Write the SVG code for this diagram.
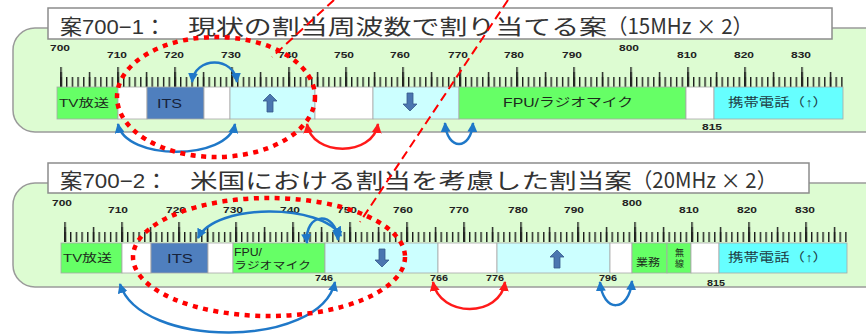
<svg xmlns="http://www.w3.org/2000/svg" xmlns:xlink="http://www.w3.org/1999/xlink" width="866" height="336" viewBox="0 0 866 336">
<style>
.panel{fill:#ddfcd2;stroke:#9a9a9a;stroke-width:1.5}
.title{fill:#fff;stroke:#8c8c8c;stroke-width:1.5}
.tt{font-family:"Liberation Sans","Noto Sans CJK JP",sans-serif;font-size:21px;fill:#333}
.cjk{font-family:"Noto Sans CJK JP",sans-serif}
.lbl{font-family:"Liberation Sans","Noto Sans CJK JP",sans-serif;font-size:9px;font-weight:bold;fill:#222;text-anchor:middle}
.bt{font-family:"Liberation Sans","Noto Sans CJK JP",sans-serif;font-size:11px;fill:#1c2a1c}
.band{stroke:#a8a8a8;stroke-width:0.8}
.g{fill:#66ff66}.w{fill:#fff}.its{fill:#4f7fbe}.c{fill:#ccffff}.m{fill:#66ffff}
.arb{fill:none;stroke:#1f78c8;stroke-width:2.5;marker-start:url(#hb);marker-end:url(#hb)}
.arr{fill:none;stroke:#ff1a1a;stroke-width:2.5;marker-start:url(#hr);marker-end:url(#hr)}
.ell{fill:none;stroke:#ff0000;stroke-width:4.5;stroke-dasharray:5 5.5}
.dl{fill:none;stroke:#ff0000;stroke-width:2;stroke-dasharray:9 5}
.blk{fill:#4a76b0;stroke:#35598a;stroke-width:0.8}
</style>
<defs>
<marker id="hb" viewBox="0 0 10 10" refX="9" refY="5" markerWidth="4" markerHeight="4" orient="auto-start-reverse"><path d="M0,0 L10,5 L0,10 z" fill="#1f78c8"/></marker>
<marker id="hr" viewBox="0 0 10 10" refX="9" refY="5" markerWidth="4" markerHeight="4" orient="auto-start-reverse"><path d="M0,0 L10,5 L0,10 z" fill="#ff1a1a"/></marker>
<pattern id="t1" patternUnits="userSpaceOnUse" x="60.3" y="0" width="5.7" height="400"><rect width="1.4" height="400" fill="#1a1a1a"/></pattern>
<pattern id="t5" patternUnits="userSpaceOnUse" x="60.3" y="0" width="28.5" height="400"><rect width="1.4" height="400" fill="#1a1a1a"/></pattern>
<pattern id="t10" patternUnits="userSpaceOnUse" x="60.3" y="0" width="57" height="400"><rect width="1.4" height="400" fill="#1a1a1a"/></pattern>
<g id="ticks">
<rect x="60" y="77" width="783" height="10" fill="url(#t1)"/>
<rect x="60" y="72" width="783" height="15" fill="url(#t5)"/>
<rect x="60" y="67" width="783" height="20" fill="url(#t10)"/>
</g>
<path id="up" d="M0,-9 L7,-2 L3,-2 L3,9 L-3,9 L-3,-2 L-7,-2 Z"/>
</defs>

<!-- top panel -->
<g id="panel1">
<rect class="panel" x="13" y="28" width="890" height="104" rx="22"/>
<rect class="title" x="48" y="8" width="784" height="31"/>
<text class="tt" y="34"><tspan x="60" textLength="128" lengthAdjust="spacingAndGlyphs">案700−1：　</tspan><tspan x="188" textLength="419" lengthAdjust="spacingAndGlyphs">現状の割当周波数で割り当てる案</tspan><tspan class="cjk" x="607" textLength="146" lengthAdjust="spacingAndGlyphs">（15MHz × 2）</tspan></text>
<use href="#ticks"/>
<g id="scale1">
<text class="lbl" x="60" y="51" textLength="20" lengthAdjust="spacingAndGlyphs">700</text>
<text class="lbl" x="117" y="58" textLength="20" lengthAdjust="spacingAndGlyphs">710</text>
<text class="lbl" x="174" y="58" textLength="20" lengthAdjust="spacingAndGlyphs">720</text>
<text class="lbl" x="231" y="58" textLength="20" lengthAdjust="spacingAndGlyphs">730</text>
<text class="lbl" x="288" y="58" textLength="20" lengthAdjust="spacingAndGlyphs">740</text>
<text class="lbl" x="344" y="58" textLength="20" lengthAdjust="spacingAndGlyphs">750</text>
<text class="lbl" x="400" y="58" textLength="20" lengthAdjust="spacingAndGlyphs">760</text>
<text class="lbl" x="458" y="58" textLength="20" lengthAdjust="spacingAndGlyphs">770</text>
<text class="lbl" x="514" y="58" textLength="20" lengthAdjust="spacingAndGlyphs">780</text>
<text class="lbl" x="572" y="58" textLength="20" lengthAdjust="spacingAndGlyphs">790</text>
<text class="lbl" x="629" y="51" textLength="20" lengthAdjust="spacingAndGlyphs">800</text>
<text class="lbl" x="687" y="58" textLength="20" lengthAdjust="spacingAndGlyphs">810</text>
<text class="lbl" x="744" y="58" textLength="20" lengthAdjust="spacingAndGlyphs">820</text>
<text class="lbl" x="801" y="58" textLength="20" lengthAdjust="spacingAndGlyphs">830</text>
<text class="lbl" x="712" y="130" textLength="20" lengthAdjust="spacingAndGlyphs">815</text>
</g>
</g>
<g id="p1-tv"><rect class="band g" x="57" y="87" width="61" height="32"/><text class="bt" x="59" y="107" textLength="50" lengthAdjust="spacingAndGlyphs">TV放送</text></g>
<g id="p1-gap1"><rect class="band w" x="118" y="87" width="29" height="32"/></g>
<g id="p1-its"><rect class="band its" x="147" y="87" width="57" height="32"/><text class="bt" x="157" y="108" textLength="25" lengthAdjust="spacingAndGlyphs" style="font-size:12px;fill:#16223a">ITS</text></g>
<g id="p1-gap2"><rect class="band w" x="204" y="87" width="26" height="32"/></g>
<g id="p1-up"><rect class="band c" x="230" y="87" width="85" height="32"/><use href="#up" class="blk" x="270" y="103"/></g>
<g id="p1-gap3"><rect class="band w" x="315" y="87" width="58" height="32"/></g>
<g id="p1-down"><rect class="band c" x="373" y="87" width="86" height="32"/><use href="#up" class="blk" transform="translate(410,102) rotate(180)"/></g>
<g id="p1-fpu"><rect class="band g" x="459" y="87" width="227" height="32"/><text class="bt" x="503" y="107" textLength="130" lengthAdjust="spacingAndGlyphs" style="font-size:12px">FPU/ラジオマイク</text></g>
<g id="p1-gap4"><rect class="band w" x="686" y="87" width="28" height="32"/></g>
<g id="p1-mobile"><rect class="band m" x="714" y="87" width="129" height="32"/><text class="bt cjk" x="728" y="107" textLength="100" lengthAdjust="spacingAndGlyphs" style="font-size:12px;fill:#203c44">携帯電話（↑）</text></g>

<!-- bottom panel -->
<g id="panel2">
<rect class="panel" x="13" y="183" width="890" height="104" rx="22"/>
<rect class="title" x="48" y="163" width="761" height="30"/>
<text class="tt" y="188"><tspan x="60" textLength="130" lengthAdjust="spacingAndGlyphs">案700−2：　</tspan><tspan x="190" textLength="442" lengthAdjust="spacingAndGlyphs">米国における割当を考慮した割当案</tspan><tspan class="cjk" x="632" textLength="145" lengthAdjust="spacingAndGlyphs">（20MHz × 2）</tspan></text>
<use href="#ticks" transform="translate(4,155)"/>
<g id="scale2">
<text class="lbl" x="62" y="206" textLength="20" lengthAdjust="spacingAndGlyphs">700</text>
<text class="lbl" x="118" y="213" textLength="20" lengthAdjust="spacingAndGlyphs">710</text>
<text class="lbl" x="176" y="213" textLength="20" lengthAdjust="spacingAndGlyphs">720</text>
<text class="lbl" x="233" y="213" textLength="20" lengthAdjust="spacingAndGlyphs">730</text>
<text class="lbl" x="290" y="213" textLength="20" lengthAdjust="spacingAndGlyphs">740</text>
<text class="lbl" x="347" y="213" textLength="20" lengthAdjust="spacingAndGlyphs">750</text>
<text class="lbl" x="403" y="213" textLength="20" lengthAdjust="spacingAndGlyphs">760</text>
<text class="lbl" x="459" y="213" textLength="20" lengthAdjust="spacingAndGlyphs">770</text>
<text class="lbl" x="518" y="213" textLength="20" lengthAdjust="spacingAndGlyphs">780</text>
<text class="lbl" x="574" y="213" textLength="20" lengthAdjust="spacingAndGlyphs">790</text>
<text class="lbl" x="632" y="206" textLength="20" lengthAdjust="spacingAndGlyphs">800</text>
<text class="lbl" x="689" y="213" textLength="20" lengthAdjust="spacingAndGlyphs">810</text>
<text class="lbl" x="747" y="213" textLength="20" lengthAdjust="spacingAndGlyphs">820</text>
<text class="lbl" x="805" y="213" textLength="20" lengthAdjust="spacingAndGlyphs">830</text>
<text class="lbl" x="324" y="281" textLength="18" lengthAdjust="spacingAndGlyphs">746</text>
<text class="lbl" x="439" y="281" textLength="18" lengthAdjust="spacingAndGlyphs">766</text>
<text class="lbl" x="495" y="281" textLength="18" lengthAdjust="spacingAndGlyphs">776</text>
<text class="lbl" x="608" y="281" textLength="18" lengthAdjust="spacingAndGlyphs">796</text>
<text class="lbl" x="716" y="286" textLength="18" lengthAdjust="spacingAndGlyphs">815</text>
</g>
</g>
<g id="p2-tv"><rect class="band g" x="61" y="243" width="61" height="30"/><text class="bt" x="63" y="262" textLength="49" lengthAdjust="spacingAndGlyphs">TV放送</text></g>
<g id="p2-gap1"><rect class="band w" x="122" y="243" width="29" height="30"/></g>
<g id="p2-its"><rect class="band its" x="151" y="243" width="57" height="30"/><text class="bt" x="167" y="263" textLength="26" lengthAdjust="spacingAndGlyphs" style="font-size:12px;fill:#16223a">ITS</text></g>
<g id="p2-gap2"><rect class="band w" x="208" y="243" width="25" height="30"/></g>
<g id="p2-fpu"><rect class="band g" x="233" y="243" width="92" height="30"/><text class="bt" style="font-size:10px"><tspan x="234" y="256" textLength="28" lengthAdjust="spacingAndGlyphs">FPU/</tspan><tspan x="234" y="269" textLength="77" lengthAdjust="spacingAndGlyphs">ラジオマイク</tspan></text></g>
<g id="p2-down"><rect class="band c" x="325" y="243" width="113" height="30"/><use href="#up" class="blk" transform="translate(382,258) rotate(180)"/></g>
<g id="p2-gap3"><rect class="band w" x="438" y="243" width="59" height="30"/></g>
<g id="p2-up"><rect class="band c" x="497" y="243" width="113" height="30"/><use href="#up" class="blk" x="557" y="259"/></g>
<g id="p2-gap4"><rect class="band w" x="610" y="243" width="22" height="30"/></g>
<g id="p2-g1"><rect class="band g" x="632" y="243" width="35" height="30"/><text class="bt" x="636" y="266" textLength="24" lengthAdjust="spacingAndGlyphs" style="font-size:10px">業務</text></g>
<g id="p2-g2"><rect class="band g" x="667" y="243" width="24" height="30"/><text class="bt" style="font-size:9px"><tspan x="675" y="256">無</tspan><tspan x="675" y="267">線</tspan></text></g>
<g id="p2-gap5"><rect class="band w" x="691" y="243" width="28" height="30"/></g>
<g id="p2-mobile"><rect class="band m" x="719" y="243" width="128" height="30"/><text class="bt cjk" x="728" y="262" textLength="100" lengthAdjust="spacingAndGlyphs" style="font-size:12px;fill:#203c44">携帯電話（↑）</text></g>

<g id="connectors">
<path class="arb" d="M192,82 C195,56 234,56 237,82"/>
<path class="arb" d="M118,124 C125,161 228,161 235,124"/>
<path class="arr" d="M307,124 C312,157 373,157 378,124"/>
<path class="arb" d="M445,123 C447,151 471,151 473,123"/>
<path class="arb" d="M198,238 C215,203 322,203 341,236"/>
<path class="arb" d="M307,243 C304,212 336,210 338,240"/>
<path class="arb" d="M120,284 C140,349 320,349 335,282"/>
<path class="arr" d="M433,282 C440,318 500,318 505,282"/>
<path class="arb" d="M600,282 C603,313 629,313 632,281"/>
</g>

<g id="highlights">
<ellipse class="ell" cx="216" cy="97" rx="99" ry="60"/>
<ellipse class="ell" cx="269" cy="257" rx="136" ry="59"/>
<path class="dl" d="M334,0 L272,57"/>
<path class="dl" d="M508,0 L360,222"/>
</g>
</svg>
